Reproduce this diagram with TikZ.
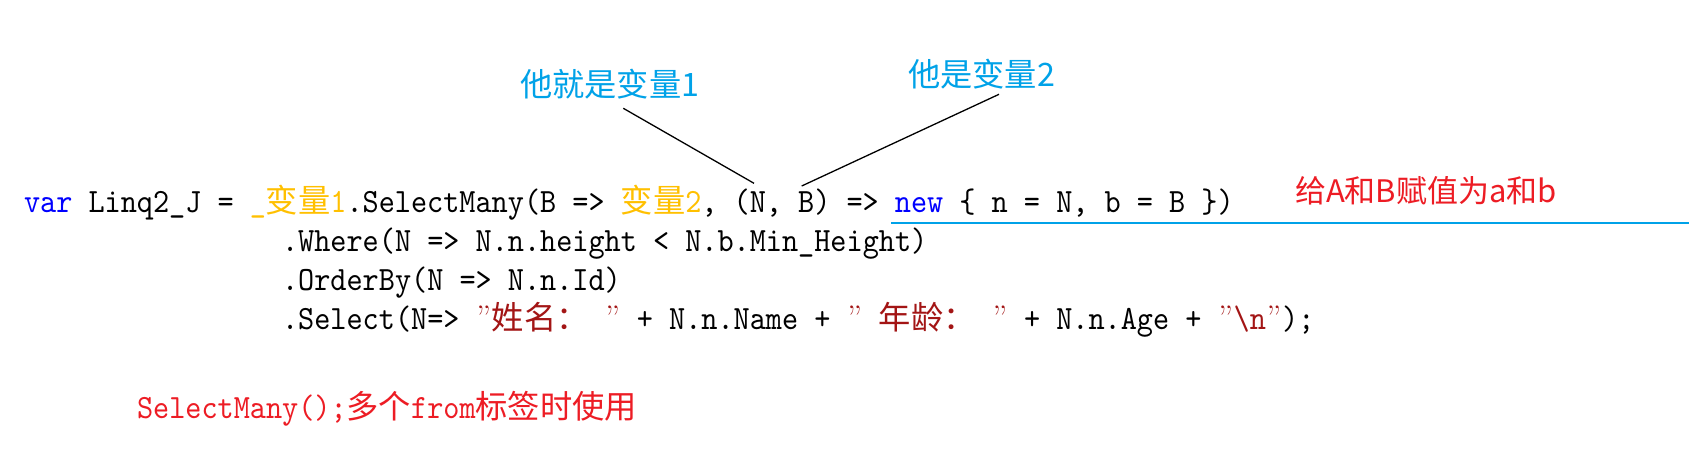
\documentclass[tikz,border=0pt]{standalone}
\usepackage{fontspec}
\newfontfamily\codefont[FakeStretch=0.9036]{lmmono10-regular.otf}
\newfontfamily\cjkfont{Noto Sans CJK SC}
\definecolor{kwblue}{RGB}{0,0,255}
\definecolor{vargold}{RGB}{255,192,0}
\definecolor{strred}{RGB}{163,21,21}
\definecolor{labblue}{RGB}{0,162,232}
\definecolor{notered}{RGB}{237,28,36}
\newcommand\mykw[1]{\textcolor{kwblue}{#1}}
\newcommand\myvg[1]{\textcolor{vargold}{#1}}
\newcommand\myst[1]{\textcolor{strred}{#1}}
\newcommand\mycj[1]{{\cjkfont\fontsize{32.26}{38}\selectfont #1}}
\newcommand\myq{\makebox[16.13pt][c]{\rmfamily ”}}
\tikzset{
  code/.style={anchor=base west, inner sep=0pt, outer sep=0pt, text=black,
    font={\codefont\fontsize{34}{40}\selectfont}},
  lab/.style={anchor=base west, inner sep=0pt, outer sep=0pt, text=labblue,
    font={\cjkfont\fontsize{32.26}{38}\selectfont}},
  notecjk/.style={anchor=base west, inner sep=0pt, outer sep=0pt, text=notered,
    font={\cjkfont\fontsize{31}{38}\selectfont}},
  notecode/.style={anchor=base west, inner sep=0pt, outer sep=0pt, text=notered,
    font={\codefont\fontsize{34}{40}\selectfont}},
  leader/.style={draw=black, line width=1.3pt},
  underl/.style={draw=labblue, line width=2.3pt}
}
\begin{document}
\begin{tikzpicture}[x=1pt,y=-1pt]
\fill[white] (0,0) rectangle (1689,476);
\useasboundingbox (0,0) rectangle (1689,476);
% code lines
\node[code] (c1) at (24,212.7) {\mykw{var} Linq2\_J = \myvg{\_\mycj{变量}1}.SelectMany(B => \myvg{\mycj{变量}2}, (N, B) => \mykw{new} \{ n = N, b = B \})};
\node[code] (c2) at (282.1,251.7) {.Where(N => N.n.height < N.b.Min\_Height)};
\node[code] (c3) at (282.1,290.5) {.OrderBy(N => N.n.Id)};
\node[code] (c4) at (282.1,329.4) {.Select(N=> \myst{\myq\mycj{姓名：} \myq} + N.n.Name + \myst{\myq{} \mycj{年龄：} \myq} + N.n.Age + \myst{\myq\textbackslash n\myq});};
% labels
\node[lab] (l1) at (520,97) {他就是变量1};
\node[lab] (l2) at (908,87) {他是变量2};
\node[notecjk] (n1) at (1295,202) {给A和B赋值为a和b};
\node[notecode] (n2) at (137,418) {SelectMany();\mycj{多个}from\mycj{标签时使用}};
% leader lines
\coordinate (a1) at (623.3,108.3);
\coordinate (b1) at (754,183.3);
\coordinate (a2) at (999,94.3);
\coordinate (b2) at (801.7,186);
\draw[leader] (a1) -- (b1);
\draw[leader] (a2) -- (b2);
% underline
\coordinate (u1) at (891,223);
\coordinate (u2) at (1689,223);
\draw[underl] (u1) -- (u2);
\end{tikzpicture}
\end{document}
